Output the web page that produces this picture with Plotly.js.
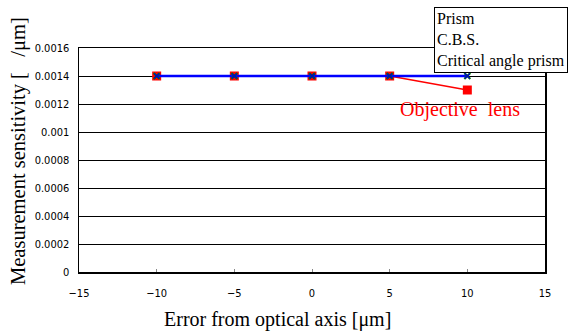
<!DOCTYPE html>
<html>
<head>
<meta charset="utf-8">
<script src="https://cdn.plot.ly/plotly-3.0.1.min.js"></script>
<style>html,body{margin:0;padding:0;background:#fff;}#chart{width:573px;height:333px;}</style>
</head>
<body>
<div id="chart"></div>
<script>
const xErr = [-10, -5, 0, 5, 10];
const prism = [0.0014, 0.0014, 0.0014, 0.0014, 0.0014];
const cbs = [0.0014, 0.0014, 0.0014, 0.0014, 0.0014];
const critical = [0.0014, 0.0014, 0.0014, 0.0014, 0.0014];
const objective = [0.0014, 0.0014, 0.0014, 0.0014, 0.0013];
const yTickVals = [0, 0.0002, 0.0004, 0.0006, 0.0008, 0.001, 0.0012, 0.0014, 0.0016];
const yTickText = ["0", "0.0002", "0.0004", "0.0006", "0.0008", "0.001", "0.0012", "0.0014", "0.0016"];
const xTickVals = [-15, -10, -5, 0, 5, 10, 15];
const xTickText = ["\u221215", "\u221210", "\u22125", "0", "5", "10", "15"];

const serif = "Liberation Serif";
const narrow = "Liberation Sans Narrow, DejaVu Sans Condensed";

const traces = [
  {x: xErr, y: objective, name: "Objective lens", mode: "lines+markers",
   line: {color: "#ff0000", width: 1.5}, marker: {symbol: "square", size: 9, color: "#ff0000"}},
  {x: xErr, y: prism, name: "Prism", mode: "lines",
   line: {color: "#0000ff", width: 2.5}},
  {x: xErr, y: cbs, name: "C.B.S.", mode: "markers",
   marker: {symbol: "x-thin", size: 6, line: {color: "#008000", width: 2}}},
  {x: xErr, y: critical, name: "Critical angle prism", mode: "markers",
   marker: {symbol: "x-thin", size: 5, line: {color: "#0000cc", width: 1.2}}}
];

const layout = {
  width: 573, height: 333,
  margin: {l: 79, r: 28, t: 48, b: 61},
  paper_bgcolor: "#fff", plot_bgcolor: "#fff",
  showlegend: false,
  xaxis: {
    range: [-15, 15], tickvals: xTickVals, ticktext: xTickText,
    ticks: "inside", ticklen: 3, tickcolor: "#888", tickwidth: 1,
    ticklabelstandoff: 10,
    showgrid: false, zeroline: false,
    showline: true, linecolor: "#000", linewidth: 1.5, mirror: true,
    tickfont: {family: narrow, size: 11, color: "#000"}
  },
  yaxis: {
    range: [0, 0.0016], tickvals: yTickVals, ticktext: yTickText,
    ticks: "", showgrid: true, gridcolor: "#000", gridwidth: 1,
    ticklabelstandoff: 6,
    zeroline: false, showline: true, linecolor: "#000", linewidth: 1.5, mirror: true,
    tickfont: {family: narrow, size: 11, color: "#000"}
  },
  annotations: [
    {xref: "paper", yref: "paper", x: 0.427, y: -0.214, xanchor: "center", yanchor: "middle",
     text: "Error from optical axis [\u03bcm]", showarrow: false,
     font: {family: serif, size: 20, color: "#000"}},
    {xref: "paper", yref: "paper", x: -0.131, y: 0.54, xanchor: "center", yanchor: "middle",
     text: "Measurement sensitivity [\u00a0\u00a0\u00a0/\u03bcm]", showarrow: false, textangle: -90,
     font: {family: serif, size: 20.5, color: "#000"}},
    {xref: "paper", yref: "paper", x: 0.762, y: 1.183, xanchor: "left", yanchor: "top",
     text: "Prism<br>C.B.S.<br>Critical angle prism", align: "left", showarrow: false,
     font: {family: serif, size: 16, color: "#000"}, bgcolor: "#fff", bordercolor: "#000", borderwidth: 1, borderpad: 2},
    {xref: "x", yref: "y", x: 9.5, y: 0.00116, text: "Objective\u00a0\u00a0lens", showarrow: false,
     font: {family: serif, size: 20, color: "#ff0000"}}
  ]
};

Plotly.newPlot("chart", traces, layout, {displayModeBar: false, staticPlot: true});
</script>
</body>
</html>
